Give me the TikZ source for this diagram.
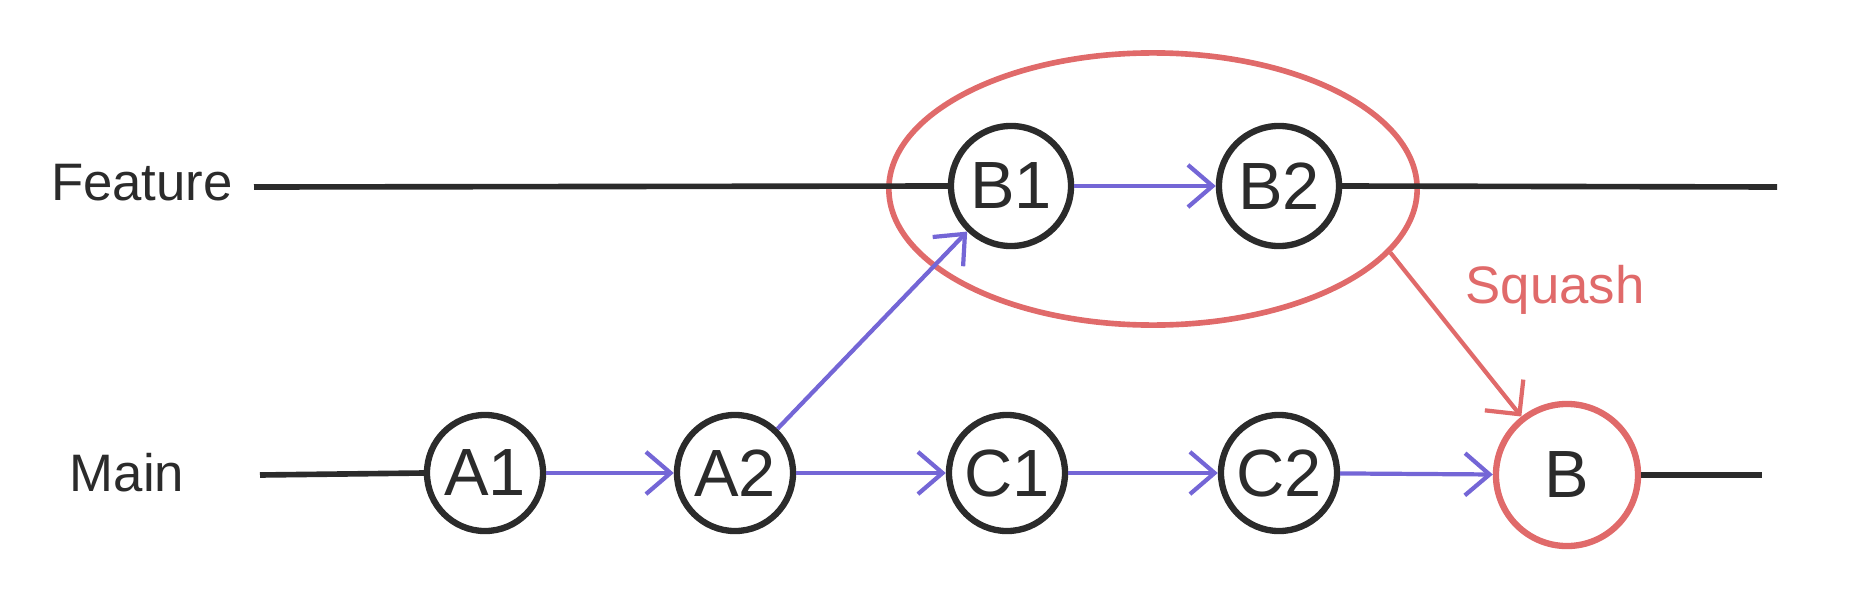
\documentclass[tikz,border=0pt]{standalone}
\usepackage{fontspec}
\setmainfont{Liberation Sans}
\usetikzlibrary{arrows.meta,shapes.geometric}
\definecolor{pencil}{HTML}{2B2B2B}
\definecolor{pblue}{HTML}{7466D6}
\definecolor{pred}{HTML}{E06A6A}
\tikzset{
  commit/.style={circle,draw=pencil,line width=1.8pt,minimum size=1.16cm,inner sep=0pt,
    font=\fontsize{19}{19}\selectfont,text=pencil},
  squashed/.style={commit,draw=pred,minimum size=1.42cm},
  branch/.style={draw=pencil,line width=1.6pt},
  flow/.style={draw=pblue,line width=1.2pt,-{Straight Barb[length=7pt,width=12pt,line width=1.2pt]}},
  redflow/.style={draw=pred,line width=1.2pt,-{Straight Barb[length=7pt,width=14pt,line width=1.2pt]}},
  lbl/.style={font=\fontsize{15}{15}\selectfont,text=pencil},
  group/.style={ellipse,draw=pred,line width=1.6pt}
}
\begin{document}
\begin{tikzpicture}[x=0.01cm,y=-0.01cm]
\useasboundingbox (0,0) rectangle (1854,597);
% labels
\node[lbl] (feat) at (142,183) {Feature};
\node[lbl] (main) at (127,473) {Main};
% commits
\node[commit] (A1) at (485,473) {A1};
\node[commit] (A2) at (735,473) {A2};
\node[commit] (C1) at (1007,473) {C1};
\node[commit] (C2) at (1279,473) {C2};
\node[squashed] (B) at (1567,475) {B};
\node[commit,minimum size=1.2cm] (B1) at (1011,186) {B1};
\node[commit,minimum size=1.2cm] (B2) at (1279,186) {B2};
% group ellipse
\node[group,minimum width=5.28cm,minimum height=2.72cm] (grp) at (1153,189) {};
% branch lines
\coordinate (fs) at (254,187);
\coordinate (fe) at (1777,187);
\coordinate (ms) at (260,475);
\coordinate (me) at (1762,475);
\draw[branch] (fs) -- (B1.west);
\draw[branch] (B2.east) -- (fe);
\draw[branch] (ms) -- (A1.west);
\draw[branch] (B.east) -- (me);
% blue arrows
\draw[flow] (A1) -- (A2);
\draw[flow] (A2) -- (C1);
\draw[flow] (C1) -- (C2);
\draw[flow] (C2) -- (B);
\draw[flow] (B1) -- (B2);
\draw[flow] (A2) -- (B1);
% squash arrow
\draw[redflow] (grp.-15) -- (B.128);
\node[font=\fontsize{15}{15}\selectfont,text=pred] (sq) at (1555,290) {Squash};
\end{tikzpicture}
\end{document}
